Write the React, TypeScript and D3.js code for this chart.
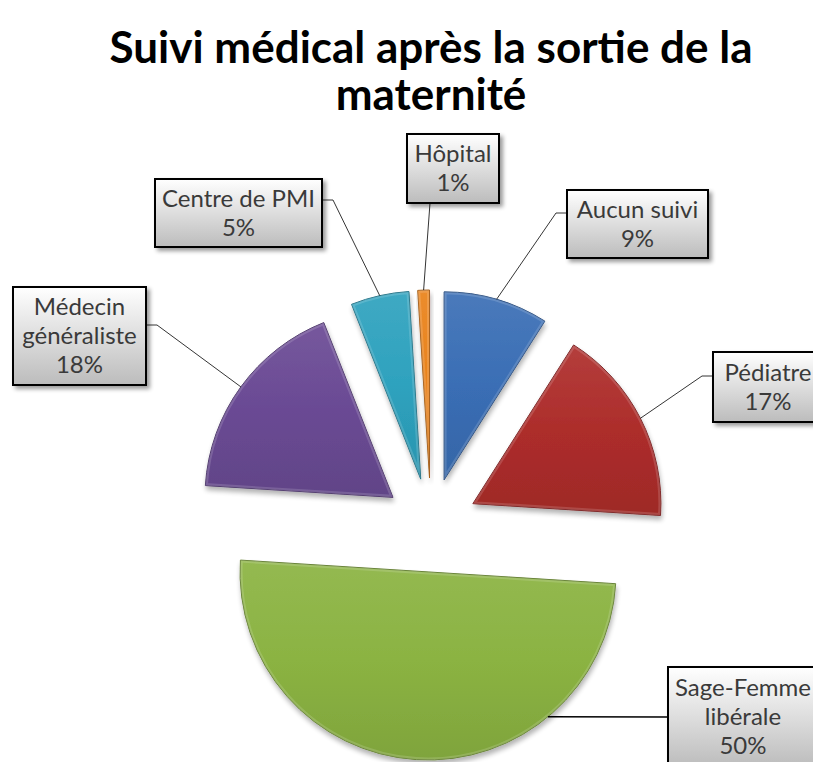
import React from "react";
import * as d3 from "d3";

// data (clockwise from 12 o'clock)
const categories = ["Aucun suivi", "Pédiatre", "Sage-Femme libérale", "Médecin généraliste", "Centre de PMI", "Hôpital"];
const percents = [9, 17, 50, 18, 5, 1];
const labelLines = [
  ["Aucun suivi", "9%"],
  ["Pédiatre", "17%"],
  ["Sage-Femme", "libérale", "50%"],
  ["Médecin", "généraliste", "18%"],
  ["Centre de PMI", "5%"],
  ["Hôpital", "1%"],
];
const colours = ["#3a6eb5", "#ad2d2b", "#8bb342", "#6a4a94", "#2ea2be", "#e9821b"];
const titleLines = ["Suivi médical après la sortie de la", "maternité"];

// layout of the data label boxes (x, y, w, h) and where the leader meets them
const labelBoxes = [
  { x: 567, y: 190, w: 141, h: 68, side: "left", ly: 23 },
  { x: 713, y: 352, w: 110, h: 70, side: "left", ly: 24 },
  { x: 668, y: 667, w: 150, h: 100, side: "left", ly: 50 },
  { x: 13, y: 287, w: 133, h: 98, side: "right", ly: 38 },
  { x: 155, y: 179, w: 167, h: 68, side: "right", ly: 21 },
  { x: 407, y: 134, w: 92, h: 69, side: "bottom", ly: 23 },
];
const anchorFrac = [0.5, 0.5, 0.26, 0.5, 0.5, 0.5];

const W = 813;
const H = 762;
const cx = 431;
const cy = 525;
const radius = 188;
const explode = 47;

export default function App() {
  const pie = d3.pie<number>().sort(null).value((d) => d);
  const arcs = pie(percents);
  const arc = d3.arc<d3.PieArcDatum<number>>().innerRadius(0).outerRadius(radius);

  const dir = (a: number) => [Math.sin(a), -Math.cos(a)];

  return (
    <svg width={W} height={H} style={{ position: "absolute", left: 0, top: 0, background: "#fff" }} fontFamily="Lato, Carlito, sans-serif">
      <defs>
        <filter id="shadow" x="-20%" y="-20%" width="150%" height="150%">
          <feGaussianBlur in="SourceAlpha" stdDeviation="2" />
          <feOffset dx="3" dy="3" result="b" />
          <feComponentTransfer><feFuncA type="linear" slope="0.4" /></feComponentTransfer>
          <feMerge><feMergeNode /><feMergeNode in="SourceGraphic" /></feMerge>
        </filter>
        <filter id="sliceShadow" x="-20%" y="-20%" width="150%" height="150%">
          <feGaussianBlur in="SourceAlpha" stdDeviation="2.5" />
          <feOffset dx="1" dy="4" result="b" />
          <feComponentTransfer><feFuncA type="linear" slope="0.3" /></feComponentTransfer>
          <feMerge><feMergeNode /><feMergeNode in="SourceGraphic" /></feMerge>
        </filter>
        <linearGradient id="boxGrad" x1="0" y1="0" x2="0" y2="1">
          <stop offset="0" stopColor="#ffffff" />
          <stop offset="1" stopColor="#bcbcbc" />
        </linearGradient>
        {colours.map((c, i) => {
          const base = d3.color(c)!;
          return (
            <linearGradient key={i} id={`g${i}`} x1="0" y1="0" x2="0" y2="1">
              <stop offset="0" stopColor={d3.interpolateRgb(c, "#fff")(0.08)} />
              <stop offset="0.5" stopColor={c} />
              <stop offset="1" stopColor={base.darker(0.25).formatHex()} />
            </linearGradient>
          );
        })}
        {arcs.map((a, i) => (
          <clipPath key={i} id={`clip${i}`}>
            <path d={arc(a) || ""} />
          </clipPath>
        ))}
      </defs>

      {titleLines.map((t, i) => (
        <text key={i} x={cx} y={63 + i * 47} textAnchor="middle" fontSize={44} fontWeight="bold" fill="#000">
          {t}
        </text>
      ))}

      {arcs.map((a, i) => {
        const mid = (a.startAngle + a.endAngle) / 2;
        const [dx, dy] = dir(mid);
        const ox = cx + dx * explode;
        const oy = cy + dy * explode;
        const base = d3.color(colours[i])!;
        return (
          <g key={categories[i]} transform={`translate(${ox},${oy})`}>
            <g filter="url(#sliceShadow)">
              <path d={arc(a) || ""} fill={`url(#g${i})`} stroke={base.darker(1).formatHex()} strokeWidth={1} />
            </g>
            <path d={arc(a) || ""} fill="none" stroke="#fff" strokeOpacity={0.15} strokeWidth={5} clipPath={`url(#clip${i})`} />
          </g>
        );
      })}

      {arcs.map((a, i) => {
        const mid = (a.startAngle + a.endAngle) / 2;
        const [dx, dy] = dir(mid);
        const ox = cx + dx * explode;
        const oy = cy + dy * explode;
        const ang = a.startAngle + (a.endAngle - a.startAngle) * anchorFrac[i];
        const [ax, ay] = dir(ang);
        const px = ox + ax * radius;
        const py = oy + ay * radius;
        const b = labelBoxes[i];
        let pts: [number, number][];
        if (b.side === "left") {
          const yy = b.y + b.ly;
          pts = i === 2 ? [[px, py], [b.x, yy]] : [[px, py], [b.x - 11, yy], [b.x, yy]];
        } else if (b.side === "right") {
          const yy = b.y + b.ly;
          pts = [[px, py], [b.x + b.w + 11, yy], [b.x + b.w, yy]];
        } else {
          pts = [[px, py], [b.x + b.ly, b.y + b.h]];
        }
        const line = d3.line();
        const lines = labelLines[i];
        const lh = 29;
        const startY = b.y + b.h / 2 - ((lines.length - 1) * lh) / 2;
        return (
          <g key={"l" + i}>
            <path d={line(pts) || ""} fill="none" stroke="#000" strokeWidth={i === 2 ? 1.5 : 0.8} />
            <rect x={b.x} y={b.y} width={b.w} height={b.h} fill="url(#boxGrad)" stroke="#000" strokeWidth={2} filter="url(#shadow)" />
            {lines.map((t, j) => (
              <text key={j} x={b.x + b.w / 2} y={startY + j * lh} dy="0.35em" textAnchor="middle" fontSize={24} fill="#3a3a3a">
                {t}
              </text>
            ))}
          </g>
        );
      })}
    </svg>
  );
}
